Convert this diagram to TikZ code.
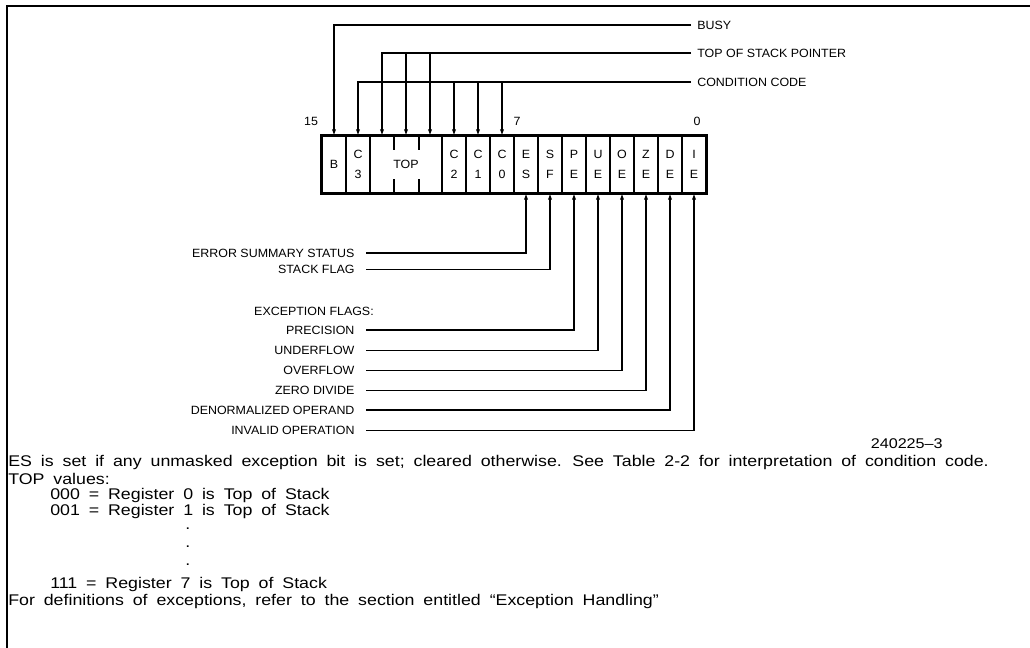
\documentclass[tikz,border=0pt]{standalone}
\usepackage{fontspec}
\setmainfont{Liberation Sans}
\newfontfamily\draftfont[FakeStretch=1.04]{Liberation Sans}
\newfontfamily\notefont[FakeStretch=1.15, WordSpace=1.8]{Liberation Sans}
\usetikzlibrary{arrows.meta, positioning}

% two letters stacked in one bit cell
\newcommand{\bitpair}[2]{#1\\[4pt]#2}

\begin{document}
\begin{tikzpicture}[x=0.025cm, y=-0.025cm,
    tag/.style={font=\draftfont\fontsize{8.5}{10}\selectfont, inner sep=0pt},
    cell/.style={tag, minimum width=0.6cm, minimum height=1.425cm, align=center},
    pointer/.style={tag, anchor=west, inner xsep=4.3pt},
    flag/.style={tag, anchor=east, inner xsep=8pt},
    arr/.style={line width=0.8pt, -{Latex[length=4.5pt,width=3pt]}},
    note/.style={font=\notefont\fontsize{11}{13}\selectfont, inner sep=0pt, anchor=west},
    dotrow/.style={note, text height=1.5pt, text depth=0pt}]
  \useasboundingbox (0,0) rectangle (1030,648);

  % frame
  \draw[line width=1.4pt] (7,648) -- (7,6) -- (1030,6);

  % 1) bit cells, 15 down to 0
  \foreach \b/\t [count=\i from 0] in {15/B, 14/\bitpair{C}{3}, 13/{}, 12/TOP, 11/{},
      10/\bitpair{C}{2}, 9/\bitpair{C}{1}, 8/\bitpair{C}{0}, 7/\bitpair{E}{S},
      6/\bitpair{S}{F}, 5/\bitpair{P}{E}, 4/\bitpair{U}{E}, 3/\bitpair{O}{E},
      2/\bitpair{Z}{E}, 1/\bitpair{D}{E}, 0/\bitpair{I}{E}}
    \node[cell] (b\b) at ({334+24*\i},164.5) {\t};

  % outline and dividers
  \draw[line width=2.2pt] (b15.north west) rectangle (b0.south east);
  \foreach \b in {15,14,11,10,9,8,7,6,5,4,3,2,1}
    \draw[line width=1.4pt] (b\b.north east) -- (b\b.south east);
  % TOP field ticks
  \foreach \b in {13,12} {
    \draw[line width=1.4pt] (b\b.north east) -- ++(0,14);
    \draw[line width=1.4pt] (b\b.south east) -- ++(0,-14);
  }

  % bit numbers
  \node[tag] (n15) at (311,121) {15};
  \node[tag] (n7)  at (517,121) {7};
  \node[tag] (n0)  at (697,121) {0};

  % 2) labels above the register
  \node[pointer] (busy) at (691,25) {BUSY};
  \node[pointer] (tos)  at (691,53) {TOP OF STACK POINTER};
  \node[pointer] (cc)   at (691,82) {CONDITION CODE};

  \draw[arr] (busy.west) -| (b15.north);
  \draw[arr] (tos.west) -| (b13.north);
  \foreach \b in {12,11}
    \draw[arr] (b\b |- tos.west) -- (b\b.north);
  \draw[arr] (cc.west) -| (b14.north);
  \foreach \b in {10,9,8}
    \draw[arr] (b\b |- cc.west) -- (b\b.north);

  % 3) labels below the register
  \node[flag] (es) at (366,253) {ERROR SUMMARY STATUS};
  \node[flag] (sf) at (366,269.5) {STACK FLAG};
  \node[tag, anchor=east] (exc) at (374,311) {EXCEPTION FLAGS:};
  \node[flag] (pe) at (366,330) {PRECISION};
  \node[flag] (ue) at (366,350.5) {UNDERFLOW};
  \node[flag] (oe) at (366,370.5) {OVERFLOW};
  \node[flag] (ze) at (366,390.5) {ZERO DIVIDE};
  \node[flag] (de) at (366,410) {DENORMALIZED OPERAND};
  \node[flag] (ie) at (366,430.5) {INVALID OPERATION};

  \foreach \n/\b in {es/7, sf/6, pe/5, ue/4, oe/3, ze/2, de/1, ie/0}
    \draw[arr] (\n.east) -| (b\b.south);

  % figure number
  \node[note, anchor=east, font=\notefont\fontsize{10}{12}\selectfont] (figno) at (943,444) {240225–3};

  % 4) notes
  \node[note] (esnote) at (8,462) {ES is set if any unmasked exception bit is set; cleared otherwise. See Table 2-2 for interpretation of condition code.};
  \node[note] (topvals) at (8,478.5) {TOP values:};
  \node[note] (v000) at (50,495) {000 = Register 0 is Top of Stack};
  \node[note] (v001) at (50,511.5) {001 = Register 1 is Top of Stack};
  \foreach \y [count=\k] in {528,546,564}
    \node[dotrow] (dot\k) at (185,\y) {.};
  \node[note] (v111) at (50,584) {111 = Register 7 is Top of Stack};
  \node[note] (excnote) at (8,601) {For definitions of exceptions, refer to the section entitled “Exception Handling”};
\end{tikzpicture}
\end{document}
